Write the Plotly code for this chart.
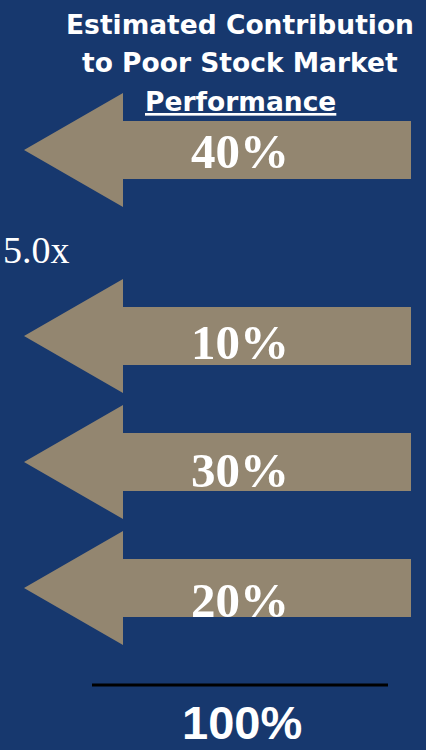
import plotly.graph_objects as go

# ---- data ----
title_lines = ["Estimated Contribution", "to Poor Stock Market", "Performance"]
contributions = [40, 10, 30, 20]          # percent
multiple_label = "5.0x"
total_label = "100%"

# ---- layout / geometry (pixel-like axis units) ----
W, H = 426, 750
BG = "#17386e"
ARROW = "#938670"
arrow_cy = [150, 336, 462, 588]
text_cy = [151, 342, 470, 600]
tip_x, head_x, right_x = 24, 123, 411
head_half, shaft_half = 57, 29

fig = go.Figure()
for cy in arrow_cy:
    xs = [tip_x, head_x, head_x, right_x, right_x, head_x, head_x, tip_x]
    ys = [cy, cy - head_half, cy - shaft_half, cy - shaft_half,
          cy + shaft_half, cy + shaft_half, cy + head_half, cy]
    fig.add_trace(go.Scatter(x=xs, y=ys, mode="lines", fill="toself",
                             fillcolor=ARROW, line=dict(width=0, color=ARROW),
                             hoverinfo="skip", showlegend=False))

for v, ty in zip(contributions, text_cy):
    fig.add_annotation(x=240, y=ty, text=f"<b>{v}%</b>", showarrow=False,
                       xanchor="center", yanchor="middle",
                       font=dict(family="Liberation Serif", size=49, color="white"))

title_y = [24, 62, 101]
for i, (line, ty) in enumerate(zip(title_lines, title_y)):
    txt = f"<b>{line}</b>" if i < 2 else f"<b><u>{line}</u></b>"
    fig.add_annotation(x=240, y=ty, text=txt, showarrow=False,
                       xanchor="center", yanchor="middle",
                       font=dict(family="DejaVu Sans", size=26.5, color="white"))

fig.add_annotation(x=1, y=250, text=multiple_label, showarrow=False,
                   xanchor="left", yanchor="middle",
                   font=dict(family="Liberation Serif", size=38, color="white"))

fig.add_shape(type="line", x0=92, x1=388, y0=685, y1=685,
              line=dict(color="black", width=3))
fig.add_annotation(x=242, y=722, text=f"<b>{total_label}</b>", showarrow=False,
                   xanchor="center", yanchor="middle",
                   font=dict(family="Liberation Sans", size=47, color="white"))

fig.update_xaxes(range=[0, W], visible=False, fixedrange=True)
fig.update_yaxes(range=[H, 0], visible=False, fixedrange=True)
fig.update_layout(width=W, height=H, margin=dict(l=0, r=0, t=0, b=0),
                  paper_bgcolor=BG, plot_bgcolor=BG, showlegend=False)

fig.write_html("out.html", config={"displayModeBar": False})
